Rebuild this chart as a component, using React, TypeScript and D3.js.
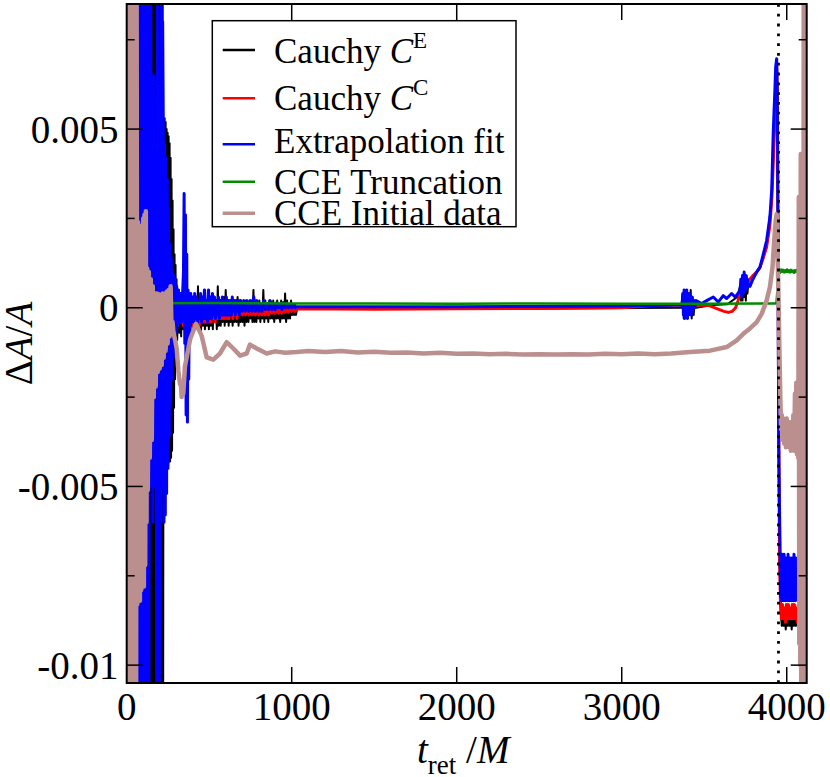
import React from "react";
import * as d3 from "d3";

// tick values
const xTicks = [0, 1000, 2000, 3000, 4000];
const yMajor = [0.005, 0, -0.005, -0.01];
const yMinor = [0.0075, 0.0025, -0.0025, -0.0075];
const yTickLabels = ["0.005", "0", "-0.005", "-0.01"];
const mergerTime = 3950;

// series: [t_ret/M, dA/A]
const cauchyE: [number, number][] = [
  [100, 0], [140, 0.0095], [143, -0.0115], [146, 0.0095], [149, -0.0115], [152, 0.0095], [155, -0.0115],
  [158, 0.0095], [161, -0.0115], [164, 0.0095], [167, -0.0115], [170, 0.0095], [173, -0.0115], [176, 0.0095],
  [179, -0.0115], [182, 0.0095], [185, -0.0115], [188, 0.0095], [191, -0.0115], [194, 0.0095], [197, -0.0115],
  [200, 0.0095], [203, -0.0115], [206, 0.0095], [209, -0.0115], [212, 0.0095], [215, -0.0115], [218, 0.0095],
  [221, -0.0115], [224, 0.0052], [227, -0.0044], [230, 0.0053], [233, -0.0043], [236, 0.0052], [239, -0.0044],
  [242, 0.005], [245, -0.0043], [248, 0.0049], [251, -0.0044], [254, 0.0048], [257, -0.0043], [260, 0.0046],
  [263, -0.0043], [266, 0.0042], [269, -0.0042], [272, 0.0036], [275, -0.004], [278, 0.003], [281, -0.0035],
  [284, 0.0022], [287, -0.0028], [290, 0.0015], [293, -0.002], [296, 0.0012], [299, -0.0012], [302, 0.0008],
  [306, -0.0009], [312, 0.0005], [318, -0.0007], [324, 0.0003],
  [330, -0.0008], [336, 0.0004], [342, -0.0006], [348, 0.0002], [354, -0.0007], [360, 0.0003], [366, -0.0006],
  [372, 0.0002], [378, -0.0007], [384, 0.0003], [390, -0.0005], [396, 0.0002], [402, -0.0007], [408, 0.0002],
  [414, -0.0006], [420, 0.0003], [426, -0.0005], [432, 0.0006], [438, -0.0006], [444, 0.0002], [450, -0.0007],
  [456, 0.0002], [462, -0.0005], [468, 0.0005], [474, -0.0006], [480, 0.0002], [486, -0.0005], [492, 0.0003],
  [498, -0.0006], [504, 0.0002], [510, -0.0005], [516, 0.0002], [522, -0.0006], [528, 0.0003], [534, -0.0004],
  [540, 0.0002], [546, -0.0006], [552, 0.0006], [558, -0.0005], [564, 0.0002], [570, -0.0005], [576, 0.0002],
  [582, -0.0004], [588, 0.0003], [594, -0.0005], [600, 0.0005], [606, -0.0004], [612, 0.0002], [618, -0.0005],
  [624, 0.0002], [630, -0.0004], [636, 0.0001], [642, -0.0005], [648, 0.0002], [654, -0.0004], [660, 0.0002],
  [666, -0.0004], [672, 0.0003], [678, -0.0005], [684, 0.0002], [690, -0.0004], [696, 0.0001], [702, -0.0004],
  [708, 0.0002], [714, -0.0005], [720, 0.0002], [726, -0.0004], [732, 0.0001], [738, -0.0004], [744, 0.0002],
  [750, -0.0003], [756, 0.0002], [762, -0.0004], [768, 0.0005], [774, -0.0004], [780, 0.0002], [786, -0.0004],
  [792, 0.0001], [798, -0.0003], [804, 0.0002], [810, -0.0004], [816, 0.0001], [822, -0.0003], [828, 0.0005],
  [834, -0.0004], [840, 0.0002], [846, -0.0003], [852, 0.0001], [858, -0.0004], [864, 0.0002], [870, -0.0003],
  [876, 0.0001], [882, -0.0003], [888, 0.0002], [894, -0.0004], [900, 0.0001], [906, -0.0003], [912, 0.0002],
  [918, -0.0003], [924, 0.0001], [930, -0.0004], [936, 0.0002], [942, -0.0003], [948, 0.0001], [954, -0.0003],
  [960, 0.0004], [966, -0.0004], [972, 0.0002], [978, -0.0003], [984, 0.0001], [990, -0.0003], [996, 0.0002],
  [1002, -0.0002], [1008, 0.0001], [1014, -0.0002], [1020, 0.0001], [1026, -0.0002], [1032, -0.00003],
  [1500, -0.00003], [2000, -0.00003], [2500, -0.00002], [3000, -0.00001], [3360, 0.0],
  [3370, 0.0004], [3376, -0.0003], [3382, 0.0005], [3388, -0.0002], [3394, 0.0005], [3400, -0.0003],
  [3406, 0.0004], [3412, -0.0002], [3418, 0.0005], [3424, -0.0003], [3430, 0.0003], [3436, -0.0002],
  [3442, 0.0002], [3450, 0.0], [3550, 0.00008], [3640, 0.0001], [3700, 0.0003], [3717, 0.0006], [3722, 0.0002],
  [3727, 0.0008], [3732, 0.0002], [3737, 0.0009], [3742, 0.0003], [3747, 0.0008], [3752, 0.0002], [3757, 0.0009],
  [3762, 0.0004], [3767, 0.0007], [3777, 0.0006], [3795, 0.00085], [3838, 0.0011], [3878, 0.0017], [3898, 0.0026],
  [3909, 0.003], [3918, 0.0042], [3929, 0.0054], [3939, 0.0067], [3945, 0.004], [3950, -0.002], [3955, -0.006],
  [3960, -0.008], [3965, -0.0086], [3970, -0.0089], [3976, -0.0085], [3982, -0.0089], [3988, -0.0085],
  [3994, -0.009], [4000, -0.0085], [4006, -0.0089], [4012, -0.0085], [4018, -0.0089], [4024, -0.0085],
  [4030, -0.009], [4036, -0.0085], [4042, -0.0089], [4048, -0.0085], [4054, -0.0089], [4060, -0.0085],
  [4066, -0.0089], [4072, -0.0085], [4078, -0.0088],
];

const cauchyC: [number, number][] = [
  [150, 0.0], [160, -0.0039], [166, 0.001], [172, -0.002], [180, 0.002], [190, -0.003], [200, 0.001],
  [210, -0.002], [220, 0.0015], [230, -0.0015], [240, 0.001], [250, -0.001], [260, 0.0008], [270, -0.0008],
  [280, 0.0003], [290, -0.0002], [296, -0.0006], [302, -0.0001], [308, -0.0005], [314, 0.0], [320, -0.0004],
  [326, 0.0], [332, -0.0004], [338, -0.0001], [344, -0.0005], [350, 0.0], [356, -0.0004], [362, 0.0001],
  [368, -0.0005], [374, 0.0], [380, -0.0004], [386, 0.0001], [392, -0.0004], [398, 0.0], [404, -0.0005],
  [410, 0.0001], [416, -0.0004], [422, 0.0], [428, -0.0004], [434, 0.0001], [440, -0.0005], [446, 0.0],
  [452, -0.0004], [458, 0.0001], [464, -0.0004], [470, 0.0], [476, -0.0004], [482, 0.0001], [488, -0.0004],
  [494, 0.0], [500, -0.0004], [506, 0.0001], [512, -0.0004], [518, 0.0], [524, -0.0003], [530, 0.0],
  [536, -0.0004], [542, 0.0], [548, -0.0003], [554, 0.0], [560, -0.0003], [566, -0.0001], [572, -0.0003],
  [578, 0.0], [584, -0.0003], [590, -0.0001], [596, -0.0003], [602, 0.0], [608, -0.0003], [614, -0.0001],
  [620, -0.0003], [626, 0.0], [632, -0.0002], [638, -0.0001], [644, -0.0003], [650, 0.0], [656, -0.0002],
  [662, -0.0001], [668, -0.0003], [674, 0.0], [680, -0.0002], [690, -0.0001], [700, -0.0002], [710, 0.0],
  [720, -0.0002], [730, -0.0001], [740, -0.0002], [750, 0.0], [760, -0.0002], [770, -0.0001], [780, -0.0002],
  [790, 0.0], [800, -0.0002], [810, -0.0001], [820, -0.0002], [830, 0.0], [840, -0.0002], [850, -0.0001],
  [860, -0.0002], [870, 0.0], [880, -0.00015], [890, -0.0001], [900, -0.00015], [910, 0.0], [920, -0.00015],
  [930, -0.00005], [940, -0.00015], [950, 0.0], [960, -0.00012], [970, -0.00005], [980, -0.00012], [990, 0.0],
  [1000, -0.0001], [1010, -0.00003], [1020, -0.0001], [1032, -0.00003], [1500, -0.00004], [2000, -0.00003],
  [2500, -0.00002], [3000, 0.0], [3200, 0.00006], [3400, 0.00008], [3530, 0.00006], [3580, -0.00003],
  [3620, -0.0001], [3646, -0.00013], [3670, -0.0001], [3690, 0.0], [3705, 0.0002], [3717, 0.0004],
  [3740, 0.00058], [3760, 0.0007], [3777, 0.0008], [3795, 0.0009], [3818, 0.001], [3838, 0.00114],
  [3858, 0.0014], [3878, 0.0017], [3898, 0.0023], [3909, 0.003], [3918, 0.004], [3929, 0.00534],
  [3939, 0.00678], [3943, 0.006], [3947, 0.002], [3951, -0.003], [3956, -0.007], [3962, -0.0083],
  [3968, -0.0087], [3974, -0.0083], [3980, -0.0087], [3986, -0.0084], [3992, -0.0088], [3998, -0.0083],
  [4004, -0.0087], [4010, -0.0083], [4016, -0.0087], [4022, -0.0084], [4028, -0.0087], [4034, -0.0083],
  [4040, -0.0087], [4046, -0.0083], [4052, -0.0087], [4058, -0.0084], [4064, -0.0088], [4070, -0.0083],
  [4076, -0.0087], [4080, -0.0085],
];

const extrapFit: [number, number][] = [
  [60, 0.0095], [63, -0.0115], [66, 0.0095], [69, -0.0115], [72, 0.0095], [75, -0.0115], [78, 0.0095],
  [81, -0.0115], [84, 0.0095], [87, -0.0115], [90, 0.0095], [93, -0.0115], [96, 0.0095], [99, -0.0115],
  [102, 0.0095], [105, -0.0115], [108, 0.0095], [111, -0.0115], [114, 0.0095], [117, -0.0115], [120, 0.0095],
  [123, -0.0115], [126, 0.0095], [129, -0.0115], [132, 0.0095], [135, -0.0115], [138, 0.0095],
  [142, -0.005], [146, 0.0095], [150, -0.0045], [154, 0.004], [158, -0.006], [162, 0.0065], [166, -0.005],
  [170, 0.0045], [174, -0.004], [178, 0.003], [182, -0.0115], [186, 0.0095], [190, -0.0115], [194, 0.004],
  [198, -0.0115], [202, 0.0062], [206, -0.006], [210, 0.0095], [214, -0.005], [218, 0.008], [222, 0.005],
  [226, -0.006], [230, 0.0046], [234, -0.0058], [238, 0.0042], [242, -0.0052], [246, 0.0036], [250, -0.0045],
  [254, 0.0028], [258, -0.0036], [262, 0.0018], [266, -0.0027], [270, 0.0014], [274, -0.002], [278, 0.001],
  [282, -0.0014], [286, 0.0009], [290, -0.001], [294, 0.0008], [298, -0.0007], [303, 0.0006], [308, -0.0005],
  [314, 0.0005], [320, -0.0004], [326, 0.0004], [332, -0.0004], [338, 0.0003], [344, 0.001], [348, 0.0032],
  [352, -0.001], [356, 0.0026], [360, -0.003], [364, 0.0015], [368, -0.0032], [372, 0.0005], [376, -0.002],
  [380, 0.0003], [384, -0.0008], [388, 0.0004], [394, -0.0004], [400, 0.0003], [406, -0.0004], [412, 0.0004],
  [418, -0.0003], [424, 0.0003], [430, -0.0004], [436, 0.0002], [442, -0.0003], [448, 0.0004], [454, -0.0004],
  [460, 0.0003], [466, -0.0003], [472, 0.0005], [478, -0.0003], [484, 0.0002], [490, -0.0004], [496, 0.0005],
  [502, -0.0003], [508, 0.0003], [514, -0.0003], [520, 0.0004], [526, -0.0002], [532, 0.0003], [538, -0.0003],
  [544, 0.0002], [550, -0.0002], [556, 0.0003], [562, -0.0003], [568, 0.0002], [574, -0.0002], [580, 0.0003],
  [586, -0.0002], [592, 0.0002], [598, -0.0002], [604, 0.0003], [610, -0.0002], [616, 0.0002], [622, -0.0002],
  [628, 0.0002], [634, -0.0002], [640, 0.0003], [646, -0.0001], [652, 0.0002], [658, -0.0002], [664, 0.0002],
  [670, -0.0001], [676, 0.0002], [682, -0.0002], [690, 0.0002], [700, -0.0001], [710, 0.0002], [720, -0.0001],
  [730, 0.0002], [740, -0.0001], [750, 0.0002], [760, -0.0001], [770, 0.0003], [780, -0.0001], [790, 0.0002],
  [800, -0.0001], [810, 0.0001], [820, -0.0001], [830, 0.0002], [840, -0.00005], [850, 0.0001], [860, -0.00005],
  [870, 0.0002], [880, -0.00005], [890, 0.0001], [900, -0.00005], [910, 0.00015], [920, 0.0], [930, 0.0001],
  [940, -0.00005], [950, 0.00015], [960, 0.0], [970, 0.0001], [980, 0.0], [990, 0.0001], [1000, 0.0],
  [1010, 0.00008], [1020, 0.0], [1032, 0.00003], [2000, 0.00003], [3000, 0.00005], [3360, 0.00008],
  [3366, 0.0001], [3370, 0.0004], [3374, -0.0002], [3378, 0.0005], [3382, -0.0003], [3386, 0.0004],
  [3390, -0.0002], [3394, 0.0005], [3398, -0.0003], [3402, 0.0003], [3406, -0.0002], [3410, 0.0004],
  [3414, -0.0001], [3418, 0.0003], [3422, -0.0002], [3426, 0.0003], [3430, -0.0001], [3436, 0.0002],
  [3442, 0.0], [3451, 0.0002], [3484, 0.00012], [3515, 0.0002], [3555, 0.0003], [3585, 0.00016],
  [3615, 0.00034], [3636, 0.00026], [3666, 0.0004], [3687, 0.0003], [3717, 0.00048], [3722, 0.0008],
  [3727, 0.0003], [3732, 0.0009], [3737, 0.0004], [3742, 0.001], [3747, 0.0005], [3752, 0.0009],
  [3757, 0.0005], [3762, 0.0008], [3767, 0.0006], [3777, 0.0006], [3795, 0.0008], [3818, 0.001],
  [3838, 0.00114], [3858, 0.0015], [3878, 0.00188], [3898, 0.00254], [3909, 0.0033], [3918, 0.00488],
  [3929, 0.0062], [3933, 0.00674], [3939, 0.00697], [3943, 0.006], [3946, 0.003], [3949, -0.001],
  [3952, -0.004], [3956, -0.0056], [3960, -0.0068], [3963, -0.0081], [3966, -0.007], [3969, -0.0082],
  [3972, -0.0069], [3975, -0.008], [3978, -0.0072], [3981, -0.0082], [3984, -0.0069], [3987, -0.0081],
  [3990, -0.0071], [3993, -0.0082], [3996, -0.007], [3999, -0.008], [4002, -0.0072], [4005, -0.0082],
  [4008, -0.0069], [4011, -0.0081], [4014, -0.0071], [4017, -0.0082], [4020, -0.007], [4023, -0.008],
  [4026, -0.0073], [4029, -0.0082], [4032, -0.007], [4035, -0.0081], [4038, -0.0072], [4041, -0.0082],
  [4044, -0.0069], [4047, -0.0081], [4050, -0.0071], [4053, -0.0082], [4056, -0.007], [4059, -0.008],
  [4062, -0.0073], [4065, -0.0081], [4068, -0.0071], [4071, -0.0082], [4074, -0.0072], [4077, -0.008],
  [4080, -0.0074],
];

const cceTruncation: [number, number][] = [
  [0, 0.00012], [500, 0.00013], [1000, 0.00012], [1500, 0.00012], [2000, 0.00011], [2500, 0.00012],
  [3000, 0.00011], [3500, 0.00011], [3930, 0.00012], [3938, 0.00015], [3942, 0.0004], [3946, 0.0008],
  [3950, 0.00104], [3955, 0.00104], [3960, 0.00098], [3966, 0.00107], [3972, 0.00101], [3978, 0.00106],
  [3984, 0.00099], [3990, 0.00105], [3996, 0.001], [4002, 0.00107], [4008, 0.001], [4014, 0.00105],
  [4020, 0.00099], [4026, 0.00106], [4032, 0.001], [4038, 0.00104], [4044, 0.00098], [4050, 0.00105],
  [4056, 0.001], [4062, 0.00106], [4068, 0.001],
];

const cceInitialData: [number, number][] = [
  [0, 0.0095], [3, -0.0115], [6, 0.0095], [9, -0.0115], [12, 0.0095], [15, -0.0115], [18, 0.0095],
  [21, -0.0115], [24, 0.0095], [27, -0.0115], [30, 0.0095], [33, -0.0115], [36, 0.0095], [39, -0.0115],
  [42, 0.0095], [45, -0.0115], [48, 0.0095], [51, -0.0115], [54, 0.0095], [57, -0.0115], [60, 0.0095],
  [64, -0.0083], [68, 0.0024], [72, -0.0081], [76, 0.0021], [80, -0.0082], [84, 0.0019], [88, -0.0079],
  [92, 0.0023], [96, -0.0075], [100, 0.0025], [104, -0.0078], [108, 0.0026], [112, -0.0072], [116, 0.0027],
  [120, -0.006], [124, 0.0011], [128, -0.0051], [134, 0.001], [140, -0.0042], [146, 0.0008], [152, -0.0037],
  [158, 0.0006], [164, -0.0025], [170, 0.0004], [176, -0.0022], [182, 0.0004], [188, -0.0018], [194, 0.00038],
  [200, -0.0017], [206, 0.00034], [212, -0.0016], [218, 0.0004], [224, -0.0014], [230, 0.0003], [236, -0.0012],
  [242, 0.00045], [248, -0.001], [254, 0.0005], [260, -0.0008], [266, 0.0006], [272, -0.0007], [278, -0.0004],
  [282, -0.00064], [303, -0.00114], [313, -0.00176], [323, -0.00214], [328, -0.0021], [333, -0.0025],
  [338, -0.0022], [343, -0.0024], [353, -0.00164], [384, -0.00089], [420, -0.00045], [454, -0.00078],
  [485, -0.00139], [525, -0.00145], [565, -0.00128], [606, -0.00096], [646, -0.00114], [687, -0.00134],
  [727, -0.00128], [747, -0.00103], [788, -0.00114], [848, -0.00128], [900, -0.00122], [960, -0.00126],
  [1030, -0.00124], [1100, -0.00121], [1200, -0.00124], [1300, -0.00121], [1400, -0.00125], [1500, -0.00123],
  [1600, -0.00126], [1700, -0.00125], [1800, -0.00128], [1900, -0.00126], [2000, -0.00129], [2100, -0.00128],
  [2200, -0.0013], [2300, -0.00129], [2400, -0.00131], [2500, -0.0013], [2600, -0.00131], [2700, -0.0013],
  [2800, -0.00131], [2900, -0.00129], [3000, -0.0013], [3100, -0.00128], [3200, -0.0013], [3300, -0.00128],
  [3414, -0.00124], [3535, -0.0012], [3636, -0.0011], [3697, -0.00091], [3737, -0.00073], [3777, -0.00058],
  [3818, -0.0004], [3848, -0.00017], [3878, 0.0002], [3898, 0.00058], [3914, 0.00114], [3924, 0.00188],
  [3933, 0.00244], [3939, 0.00262], [3945, 0.0015], [3952, -0.0002], [3958, -0.0018], [3962, -0.0027],
  [3966, -0.0034], [3970, -0.003], [3975, -0.0037], [3980, -0.0031], [3985, -0.0038], [3990, -0.0032],
  [3995, -0.0039], [4000, -0.0031], [4005, -0.0038], [4010, -0.0032], [4015, -0.0039], [4020, -0.0033],
  [4025, -0.004], [4030, -0.0032], [4035, -0.0039], [4040, -0.003], [4045, -0.004], [4050, -0.0024],
  [4055, -0.0039], [4058, -0.0021], [4062, -0.0041], [4066, -0.0021], [4070, -0.0042], [4073, 0.0031],
  [4076, -0.0094], [4079, 0.0031], [4082, -0.01], [4085, 0.0043], [4088, -0.0115], [4091, 0.0043],
  [4094, -0.0115], [4097, 0.0043], [4100, -0.0115], [4103, 0.0095], [4106, -0.0115], [4109, 0.0095],
  [4112, -0.0115], [4115, 0.0095], [4118, -0.0115], [4121, 0.0095],
];

const seriesNames = ["Cauchy C^E", "Cauchy C^C", "Extrapolation fit", "CCE Truncation", "CCE Initial data"];
const seriesColors = ["#000000", "#ff0000", "#0000ff", "#008b00", "#bc8f8f"];
const seriesWidths = [2, 3, 3, 2.5, 4.5];
const seriesData = [cauchyE, cauchyC, extrapFit, cceTruncation, cceInitialData];

const W = 830;
const H = 777;
const left = 126.7, right = 806.7, top = 4, bottom = 683;
const font = "'Liberation Serif', 'Times New Roman', Times, serif";

export default function App() {
  const x = d3.scaleLinear().domain([0, 4121]).range([left, right]);
  const y = d3.scaleLinear().domain([-0.0105, 0.0085]).range([bottom, top]);
  const line = d3.line<[number, number]>().x(d => x(d[0])).y(d => y(d[1]));

  const legendRows = [50, 98.3, 144.3, 181.7, 213.3];
  const legendBase = [62.7, 110, 153.3, 194, 225];

  const legendText = (i: number) => {
    if (i === 0 || i === 1) {
      return (
        <>
          <tspan>Cauchy </tspan>
          <tspan fontStyle="italic">C</tspan>
          <tspan fontSize={23} dy={-15}>{i === 0 ? "E" : "C"}</tspan>
        </>
      );
    }
    return seriesNames[i];
  };

  return (
    <svg width={W} height={H} style={{ position: "absolute", left: 0, top: 0, background: "#fff", fontFamily: font }}>
      <defs>
        <clipPath id="plot">
          <rect x={left} y={top} width={right - left} height={bottom - top} />
        </clipPath>
      </defs>
      <rect x={0} y={0} width={W} height={H} fill="#fff" />

      <g clipPath="url(#plot)">
        {seriesData.map((d, i) => (
          <path key={i} d={line(d) || ""} fill="none" stroke={seriesColors[i]}
            strokeWidth={seriesWidths[i]} strokeLinejoin="round" />
        ))}
        <line x1={x(mergerTime)} x2={x(mergerTime)} y1={top} y2={bottom} stroke="#000"
          strokeWidth={2.8} strokeDasharray="2.8,7" />
      </g>

      {/* frame */}
      <rect x={left} y={top} width={right - left} height={bottom - top} fill="none" stroke="#000" strokeWidth={2} />

      {/* x ticks */}
      {xTicks.map(t => (
        <g key={"x" + t}>
          {t > 0 && <line x1={x(t)} x2={x(t)} y1={bottom} y2={bottom - 16} stroke="#000" strokeWidth={1.5} />}
          {t > 0 && <line x1={x(t)} x2={x(t)} y1={top} y2={top + 16} stroke="#000" strokeWidth={1.5} />}
          <text x={x(t)} y={720} fontSize={39} textAnchor="middle">{t}</text>
        </g>
      ))}

      {/* y ticks */}
      {yMajor.map((v, i) => (
        <g key={"y" + v}>
          <line x1={left} x2={left + 16} y1={y(v)} y2={y(v)} stroke="#000" strokeWidth={1.5} />
          <line x1={right} x2={right - 16} y1={y(v)} y2={y(v)} stroke="#000" strokeWidth={1.5} />
          <text x={118.5} y={y(v) + 13.5} fontSize={39} textAnchor="end">{yTickLabels[i]}</text>
        </g>
      ))}
      {yMinor.map(v => (
        <g key={"m" + v}>
          <line x1={left} x2={left + 8} y1={y(v)} y2={y(v)} stroke="#000" strokeWidth={1.5} />
          <line x1={right} x2={right - 8} y1={y(v)} y2={y(v)} stroke="#000" strokeWidth={1.5} />
        </g>
      ))}

      {/* axis titles */}
      <text x={417} y={762.7} fontSize={39}>
        <tspan fontStyle="italic">t</tspan>
        <tspan fontSize={27} dy={11.6}>ret</tspan>
        <tspan dy={-11.6}> /</tspan>
        <tspan fontStyle="italic">M</tspan>
      </text>
      <text transform="translate(32,343.5) rotate(-90)" fontSize={39} textAnchor="middle">
        <tspan>Δ</tspan>
        <tspan fontStyle="italic">A</tspan>
        <tspan>/</tspan>
        <tspan fontStyle="italic">A</tspan>
      </text>

      {/* legend */}
      <rect x={212.3} y={20.7} width={303.7} height={206} fill="#fff" stroke="#000" strokeWidth={1.5} />
      {seriesNames.map((n, i) => (
        <g key={n}>
          <line x1={222.7} x2={255} y1={legendRows[i]} y2={legendRows[i]} stroke={seriesColors[i]}
            strokeWidth={i === 4 ? 3.5 : 2.5} />
          <text x={274} y={legendBase[i]} fontSize={35}>{legendText(i)}</text>
        </g>
      ))}
    </svg>
  );
}
